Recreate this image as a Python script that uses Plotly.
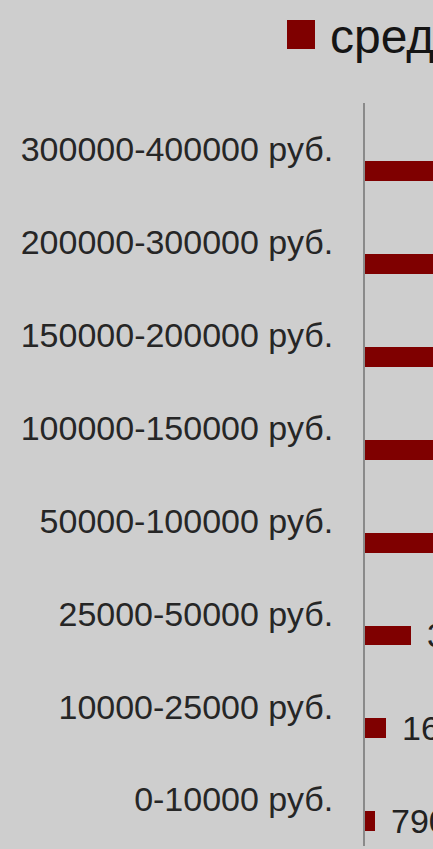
import plotly.graph_objects as go

categories = ["0-10000 руб.", "10000-25000 руб.", "25000-50000 руб.", "50000-100000 руб.",
              "100000-150000 руб.", "150000-200000 руб.", "200000-300000 руб.", "300000-400000 руб."]
values = [7900, 16000, 36000, 75000, 125000, 175000, 250000, 350000]
series_name = "средняя сумма"

positions = list(range(len(categories)))
BAR = "#7f0000"
BG = "#cecece"
FONT = "Liberation Sans, Arial, sans-serif"

fig = go.Figure()
fig.add_trace(go.Bar(
    x=values, y=positions, orientation="h",
    width=0.214, offset=-0.34,
    marker=dict(color=BAR, line=dict(width=0)),
    showlegend=False, name=series_name,
))

annotations = []
for v, p in zip(values, positions):
    annotations.append(dict(
        x=v, y=p - 0.233, xref="x", yref="y", text=str(v),
        xanchor="left", yanchor="middle", showarrow=False, xshift=14,
        font=dict(family=FONT, size=34, color="#222222"),
    ))
# legend text
annotations.append(dict(
    x=0, y=1, xref="paper", yref="paper", text=series_name,
    xanchor="left", yanchor="middle", showarrow=False, xshift=-37, yshift=67,
    font=dict(family=FONT, size=48, color="#151515"),
))

fig.update_layout(
    width=433, height=849,
    margin=dict(l=365, r=0, t=103, b=3, pad=0),
    paper_bgcolor=BG, plot_bgcolor=BG,
    bargap=0,
    annotations=annotations,
    shapes=[dict(
        type="rect", xref="paper", yref="paper",
        xsizemode="pixel", ysizemode="pixel", xanchor=0, yanchor=1,
        x0=-78, x1=-50, y0=54, y1=83,
        fillcolor=BAR, line=dict(width=0),
    )],
    xaxis=dict(visible=False, range=[0, 53000], fixedrange=True),
    yaxis=dict(
        range=[-0.5, len(categories) - 0.5],
        tickvals=positions, ticktext=categories,
        showline=True, linecolor="#8a8a8a", linewidth=2,
        showgrid=False, zeroline=False, ticks="",
        ticklabelstandoff=23,
        tickfont=dict(family=FONT, size=34, color="#262626"),
    ),
)

fig.write_html(
    "out.html",
    config={"displayModeBar": False},
    post_script="document.body.style.margin='0';document.body.style.overflow='hidden';",
)
